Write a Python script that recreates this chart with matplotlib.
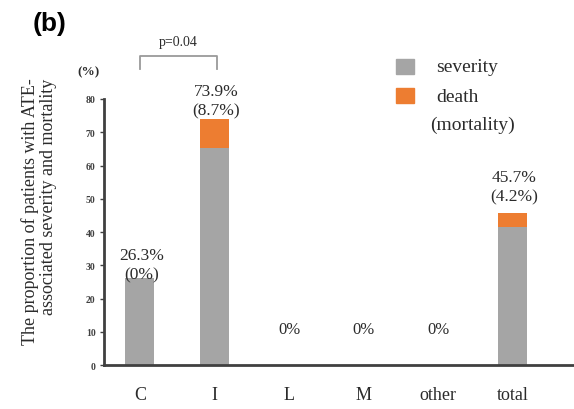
import matplotlib
matplotlib.use("Agg")
import matplotlib.pyplot as plt
from matplotlib.patches import Rectangle

categories = ["C", "I", "L", "M", "other", "total"]
severity = [26.3, 65.2, 0, 0, 0, 41.5]
death = [0, 8.7, 0, 0, 0, 4.2]
total_pct = [26.3, 73.9, 0, 0, 0, 45.7]
mortality_pct = [0, 8.7, 0, 0, 0, 4.2]

GRAY = "#A5A5A5"
ORANGE = "#ED7D31"
TXT = "#2B2B2B"
SERIF = ["Liberation Serif", "DejaVu Serif"]

fig = plt.figure(figsize=(5.74, 4.10), dpi=100)
ax = fig.add_axes([0.1812, 0.1073, 0.8188, 0.6488])

x = list(range(len(categories)))
ax.bar(x, severity, width=0.39, color=GRAY, zorder=2)
ax.bar(x, death, width=0.39, bottom=severity, color=ORANGE, zorder=2)

ax.set_xlim(-0.48, 5.82)
ax.set_ylim(0, 80)
ax.set_yticks(range(0, 81, 10))
ax.set_xticks(x)
ax.set_xticklabels(categories, fontfamily=SERIF, fontsize=13, color=TXT)
for lab in ax.get_yticklabels():
    lab.set_fontfamily(SERIF)
    lab.set_fontsize(7)
    lab.set_fontweight("bold")
ax.tick_params(axis="y", length=3, width=1, color="#404040", pad=3, labelcolor="#404040")
ax.tick_params(axis="x", length=0, pad=15)

for s in ["top", "right"]:
    ax.spines[s].set_visible(False)
for s in ["left", "bottom"]:
    ax.spines[s].set_linewidth(2)
    ax.spines[s].set_color("#404040")

# Value labels: total (mortality) above each bar
label_gap = [-1.6, 0.3, 0, 0, 0, 2.6]
for xi, t, m, g in zip(x, total_pct, mortality_pct, label_gap):
    if t > 0:
        ax.text(xi + 0.02, t + g, f"{t}%\n({m:g}%)", ha="center", va="bottom",
                fontfamily=SERIF, fontsize=12.5, color=TXT, linespacing=1.3)
    else:
        ax.text(xi, 10.8, "0%", ha="center", va="center",
                fontfamily=SERIF, fontsize=12, color=TXT)

# Significance bracket between C and I
ax.plot([0, 0, 1.03, 1.03], [89.0, 92.9, 92.9, 89.0], color="#9A9A9A",
        lw=1.3, clip_on=False)
ax.text(0.51, 97.3, "p=0.04", ha="center", va="center",
        fontfamily=SERIF, fontsize=10, color=TXT)

# Unit label
fig.text(89 / 574, 1 - 72 / 410, "(%)", ha="center", va="center",
         fontfamily=SERIF, fontsize=9.5, fontweight="bold", color=TXT)

# Y axis title
fig.text(39 / 574, 1 - 212 / 410,
         "The proportion of patients with ATE-\nassociated severity and mortality",
         rotation=90, ha="center", va="center", multialignment="right",
         fontfamily=SERIF, fontsize=13, color=TXT, linespacing=1.05)

# Panel tag
fig.text(33 / 574, 1 - 24 / 410, "(b)", ha="left", va="center",
         fontfamily=["Liberation Sans", "DejaVu Sans"], fontsize=19,
         fontweight="bold")

# Legend
W, H = 574, 410
legend_items = [(GRAY, "severity", 68), (ORANGE, "death", 97)]
for color, label, yc in legend_items:
    fig.patches.append(Rectangle((396 / W, 1 - (yc + 7) / H), 18 / W, 15 / H,
                                 color=color, transform=fig.transFigure))
    fig.text(436 / W, 1 - yc / H, label, ha="left", va="center",
             fontfamily=SERIF, fontsize=14, color=TXT)
fig.text(430 / W, 1 - 125 / H, "(mortality)", ha="left", va="center",
         fontfamily=SERIF, fontsize=14, color=TXT)

fig.savefig("out.png", dpi=100)
